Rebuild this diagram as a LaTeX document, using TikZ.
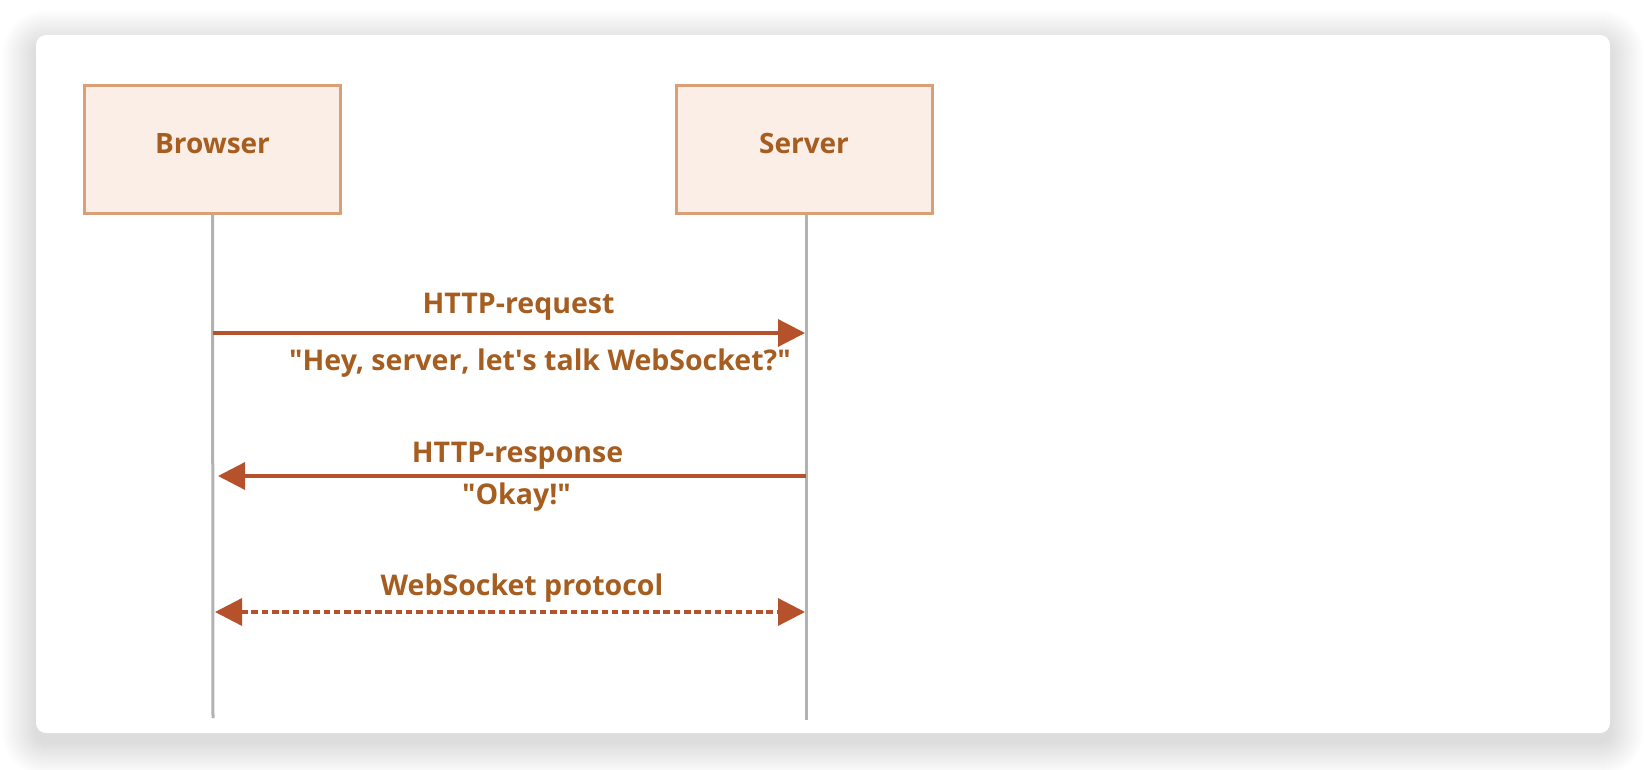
\documentclass[tikz,border=0pt]{standalone}
\usepackage{fontspec}
\setmainfont{Open Sans}
\usetikzlibrary{arrows.meta}
\definecolor{txt}{HTML}{A55D20}
\definecolor{arr}{HTML}{B5522B}
\definecolor{boxfill}{HTML}{FAEEE6}
\definecolor{boxline}{HTML}{D9A078}
\definecolor{life}{HTML}{B2B2B2}
\newcommand{\dq}{\textquotedbl}
\newcommand{\sq}{\textquotesingle}
\tikzset{
  actor/.style={draw=boxline, fill=boxfill, line width=3pt, minimum width=256pt, minimum height=128pt, inner sep=0pt, text=txt, text height=20pt, text depth=12pt, font=\bfseries\fontsize{28}{32}\selectfont},
  lbl/.style={text=txt, font=\bfseries\fontsize{28.5}{32}\selectfont, inner sep=0pt, anchor=base},
  lifeline/.style={draw=life, line width=3pt},
  msg/.style={draw=arr, line width=3.3pt, -{Triangle[length=27pt,width=27pt]}},
  msgdash/.style={draw=arr, line width=3.3pt, dash pattern=on 6.5pt off 3.8pt, {Triangle[length=27pt,width=27pt]}-{Triangle[length=27pt,width=27pt]}},
}
\begin{document}
\begin{tikzpicture}[x=1pt,y=-1pt]
\useasboundingbox (0,0) rectangle (1646,770);
\fill[white] (0,0) rectangle (1646,770);
% soft shadow
\foreach \i [evaluate=\i as \r using 10+\i] in {1,...,34}{
  \fill[black, opacity=0.0042, rounded corners=\r pt] (36-\i,44-\i) rectangle (1610+\i,742+\i);
}
\node[fill=white, rounded corners=10pt, minimum width=1574pt, minimum height=698pt, inner sep=0pt]
  (card) at (823,384) {};
\node[actor] (browser) at (212.5,149.5) {Browser};
\node[actor] (server) at (804,149.5) {Server};
\coordinate (bend) at (213,718);
\coordinate (send) at (806,720);
\draw[lifeline] (browser.south) -- (bend);
\draw[lifeline] (server.south -| send) -- (send);
% arrow 1
\coordinate (a1s) at (213,333);
\coordinate (a1e) at (805,333);
\draw[msg] (a1s) -- (a1e);
\node[lbl] (req) at (518.5,313) {HTTP-request};
\node[lbl] (hey) at (540,370) {\dq Hey, server, let\sq s talk WebSocket?\dq};
% arrow 2
\coordinate (a2s) at (806,476);
\coordinate (a2e) at (218,476);
\draw[msg] (a2s) -- (a2e);
\node[lbl] (resp) at (517.5,462) {HTTP-response};
\node[lbl] (okay) at (516.5,504) {\dq Okay!\dq};
% arrow 3
\coordinate (a3s) at (215,612);
\coordinate (a3e) at (805,612);
\draw[msgdash] (a3s) -- (a3e);
\node[lbl] (ws) at (522,595) {WebSocket protocol};
\end{tikzpicture}
\end{document}
